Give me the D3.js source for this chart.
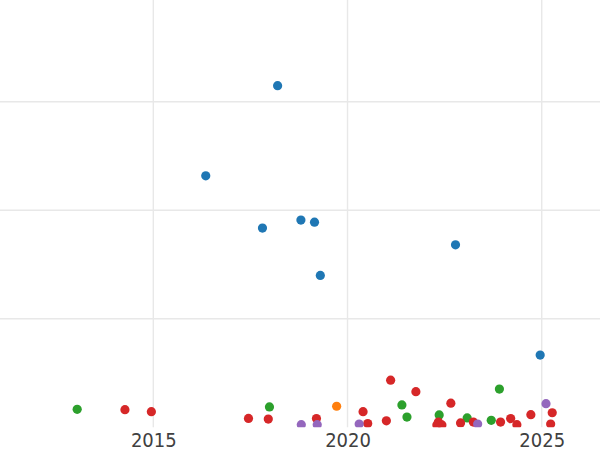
<!DOCTYPE html>
<html><head><meta charset="utf-8">
<script src="https://cdn.jsdelivr.net/npm/d3@7"></script>
<style>html,body{margin:0;padding:0;background:#fff;}</style>
</head><body>
<svg id="c" width="600" height="450"></svg>
<script>
const xTicks = [2015, 2020, 2025];
const yTicks = [0, 50, 100, 150];
const seriesNames = ["blue", "green", "red", "orange", "purple"];
const seriesColors = ["#1f77b4", "#2ca02c", "#d62728", "#ff7f0e", "#9467bd"];

const blueX = [2018.20, 2016.35, 2017.81, 2018.80, 2019.15, 2019.30, 2022.78, 2024.96];
const blueY = [157.4, 115.9, 91.8, 95.5, 94.5, 70.0, 84.1, 33.3];

const greenX = [2013.04, 2017.99, 2021.40, 2021.53, 2022.36, 2023.08, 2023.91, 2023.70];
const greenY = [8.3, 9.4, 10.3, 4.7, 5.7, 4.3, 17.6, 3.2];

const redX = [2014.27, 2014.95, 2017.45, 2017.96, 2019.20, 2020.40, 2020.52, 2021.11, 2021.00, 2021.76,
              2022.34, 2022.43, 2022.30, 2022.66, 2022.91, 2023.24, 2023.94, 2024.20, 2024.36, 2024.72,
              2025.27, 2025.23];
const redY = [8.1, 7.2, 4.1, 3.8, 4.0, 7.2, 1.7, 21.7, 3.0, 16.4,
              2.4, 1.1, 1.1, 11.1, 2.0, 2.4, 2.4, 4.0, 1.2, 5.8,
              6.7, 1.5];

const orangeX = [2019.72];
const orangeY = [9.7];

const purpleX = [2018.81, 2019.22, 2020.30, 2023.35, 2025.11];
const purpleY = [1.2, 1.2, 1.5, 1.5, 10.9];

const allX = [blueX, greenX, redX, orangeX, purpleX];
const allY = [blueY, greenY, redY, orangeY, purpleY];

const W = 600, H = 450;
const plot = {left: 0, right: 600, top: 0, bottom: 427.3};

const x = d3.scaleLinear().domain([2011.053, 2026.50]).range([plot.left, plot.right]);
const y = d3.scaleLinear().domain([0, 196.9]).range([plot.bottom, plot.top]);

const svg = d3.select("#c");
svg.append("defs").append("clipPath").attr("id", "clip")
  .append("rect").attr("x", plot.left).attr("y", plot.top)
  .attr("width", plot.right - plot.left).attr("height", plot.bottom - plot.top);

const grid = svg.append("g");
grid.selectAll("line.h").data(yTicks.slice(1)).enter().append("line")
  .attr("x1", plot.left).attr("x2", plot.right)
  .attr("y1", d => y(d)).attr("y2", d => y(d))
  .attr("stroke", "#e8e8e8").attr("stroke-width", 1.6);
grid.selectAll("line.v").data(xTicks).enter().append("line")
  .attr("y1", plot.top).attr("y2", plot.bottom)
  .attr("x1", d => x(d)).attr("x2", d => x(d))
  .attr("stroke", "#e8e8e8").attr("stroke-width", 1.4);

const xAxis = d3.axisBottom(x).tickValues(xTicks).tickFormat(d3.format("d")).tickSize(0).tickPadding(0);
const ax = svg.append("g").attr("transform", `translate(0,${plot.bottom})`).call(xAxis);
ax.select(".domain").remove();
ax.selectAll("text")
  .attr("y", 20.2).attr("dy", null)
  .attr("fill", "#404040")
  .style("font-family", "'DejaVu Sans Condensed', 'DejaVu Sans', sans-serif")
  .style("font-stretch", "condensed")
  .style("font-size", "20px");

const pts = svg.append("g").attr("clip-path", "url(#clip)");
seriesNames.forEach((name, i) => {
  const data = allX[i].map((v, j) => ({x: v, y: allY[i][j]}));
  pts.selectAll(`circle.${name}`).data(data).enter().append("circle")
    .attr("class", name)
    .attr("cx", d => x(d.x)).attr("cy", d => y(d.y))
    .attr("r", 4.6)
    .attr("fill", seriesColors[i]);
});
</script>
</body></html>
